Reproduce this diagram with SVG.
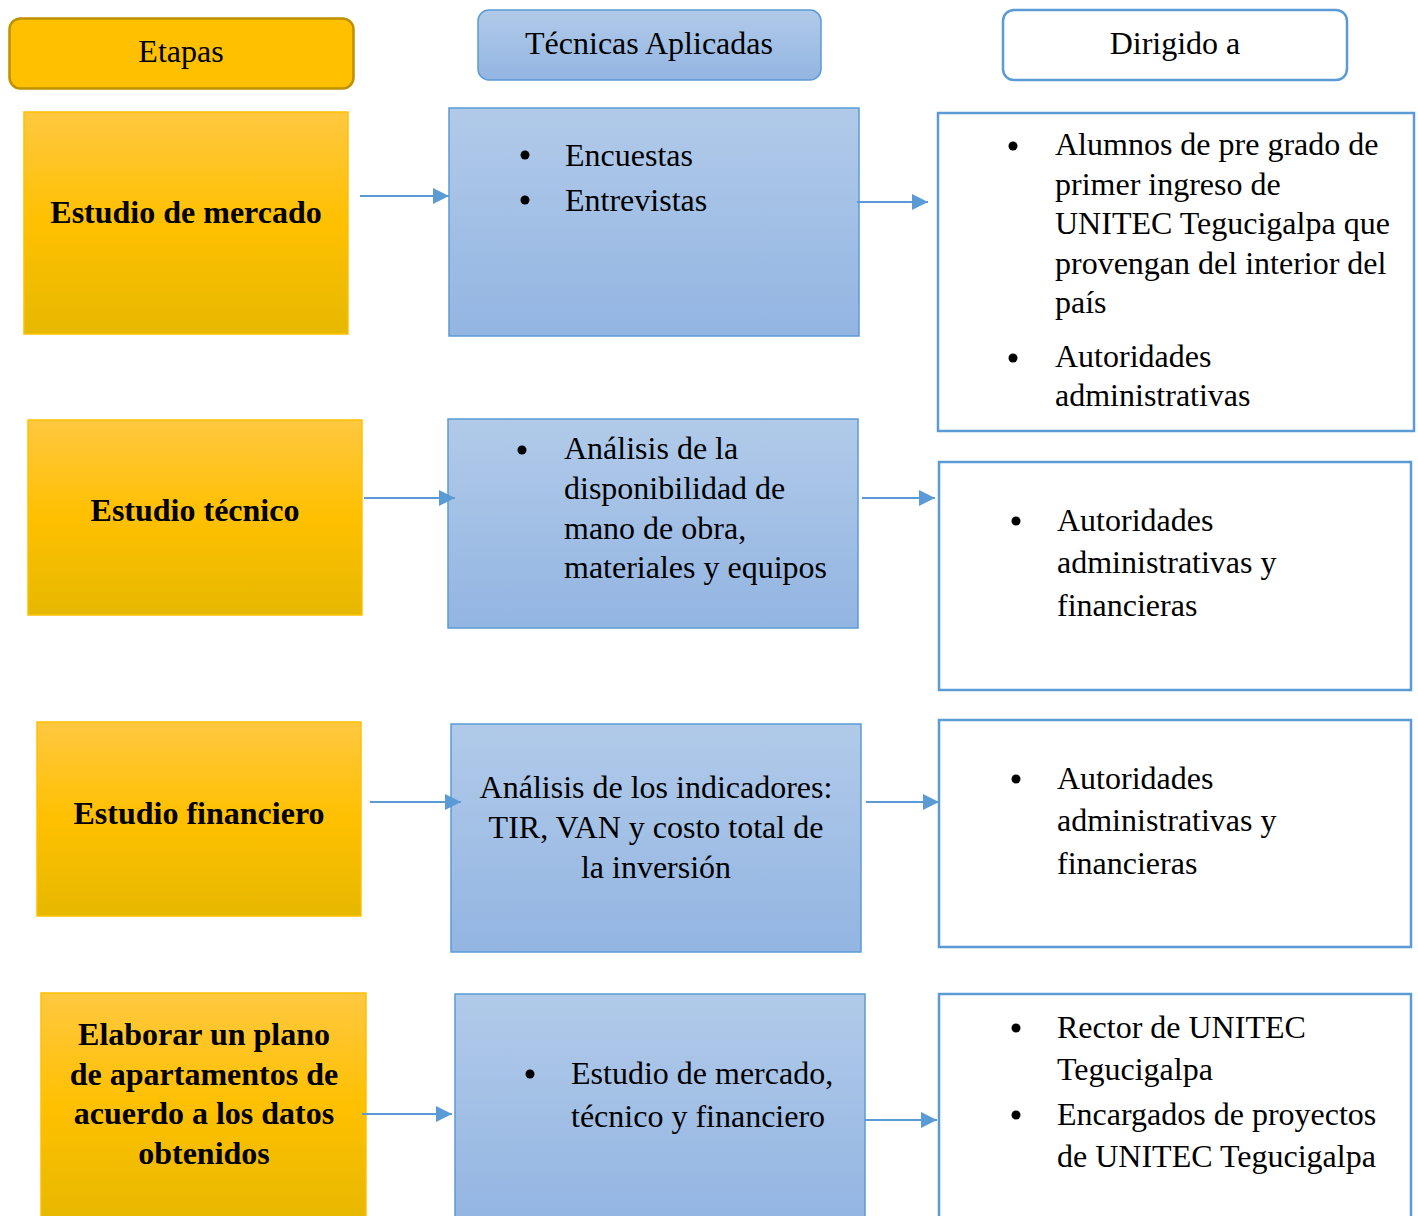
<svg xmlns="http://www.w3.org/2000/svg" width="1418" height="1216" viewBox="0 0 1418 1216">
<defs>
<linearGradient id="gold" x1="0" y1="0" x2="0" y2="1">
<stop offset="0" stop-color="#FFC840"/>
<stop offset="0.5" stop-color="#FFC000"/>
<stop offset="1" stop-color="#E6B800"/>
</linearGradient>
<linearGradient id="blue" x1="0" y1="0" x2="0" y2="1">
<stop offset="0" stop-color="#B1CAE9"/>
<stop offset="1" stop-color="#93B5E2"/>
</linearGradient>
<marker id="ah" viewBox="0 0 10 10" refX="10" refY="5" markerWidth="8" markerHeight="8" markerUnits="strokeWidth" orient="auto">
<path d="M0,0 L10,5 L0,10 z" fill="#5B9BD5"/>
</marker>
<style>
.gold{fill:url(#gold);stroke:#FFC000;stroke-width:1.5}
.blue{fill:url(#blue);stroke:#5B9BD5;stroke-width:1.5}
.white{fill:#fff;stroke:#5B9BD5;stroke-width:2.5}
text{font-family:"Liberation Serif","Times New Roman",serif;font-size:32px;fill:#000}
.b{font-weight:bold}
.c{text-anchor:middle}
.conn line{stroke:#5B9BD5;stroke-width:2;marker-end:url(#ah)}
.dot{fill:#000}
</style>
</defs>
<rect width="1418" height="1216" fill="#fff"/>

<g id="hdr-etapas">
<rect x="9.5" y="18.5" width="344" height="70" rx="11" fill="#FFC000" stroke="#BF9000" stroke-width="2.5"/>
<text class="c" x="181" y="62">Etapas</text>
</g>
<g id="hdr-tecnicas">
<rect x="478" y="10" width="343" height="70" rx="11" fill="url(#blue)" stroke="#5B9BD5" stroke-width="1.5"/>
<text class="c" x="649" y="54">Técnicas Aplicadas</text>
</g>
<g id="hdr-dirigido">
<rect x="1003" y="10" width="344" height="70" rx="11" fill="#fff" stroke="#5B9BD5" stroke-width="2.5"/>
<text class="c" x="1175" y="54">Dirigido a</text>
</g>

<g id="etapa1">
<rect class="gold" x="24" y="112" width="324" height="222"/>
<text class="c b" x="186" y="223">Estudio de mercado</text>
</g>
<g id="etapa2">
<rect class="gold" x="28" y="420" width="334" height="195"/>
<text class="c b" x="195" y="521">Estudio técnico</text>
</g>
<g id="etapa3">
<rect class="gold" x="37" y="722" width="324" height="194"/>
<text class="c b" x="199" y="824">Estudio financiero</text>
</g>
<g id="etapa4">
<rect class="gold" x="41" y="993" width="325" height="230"/>
<text class="c b" x="204" y="1045">Elaborar un plano</text>
<text class="c b" x="204" y="1085">de apartamentos de</text>
<text class="c b" x="204" y="1124">acuerdo a los datos</text>
<text class="c b" x="204" y="1164">obtenidos</text>
</g>

<g id="tecnica1">
<rect class="blue" x="449" y="108" width="410" height="228"/>
<circle class="dot" cx="525" cy="155" r="4.5"/>
<circle class="dot" cx="525" cy="200" r="4.5"/>
<text x="565" y="166">Encuestas</text>
<text x="565" y="211">Entrevistas</text>
</g>
<g id="tecnica2">
<rect class="blue" x="448" y="419" width="410" height="209"/>
<circle class="dot" cx="522" cy="450" r="4.5"/>
<text x="564" y="459">Análisis de la</text>
<text x="564" y="499">disponibilidad de</text>
<text x="564" y="539">mano de obra,</text>
<text x="564" y="578">materiales y equipos</text>
</g>
<g id="tecnica3">
<rect class="blue" x="451" y="724" width="410" height="228"/>
<text class="c" x="656" y="798">Análisis de los indicadores:</text>
<text class="c" x="656" y="838">TIR, VAN y costo total de</text>
<text class="c" x="656" y="878">la inversión</text>
</g>
<g id="tecnica4">
<rect class="blue" x="455" y="994" width="410" height="230"/>
<circle class="dot" cx="530" cy="1074" r="4.5"/>
<text x="571" y="1084">Estudio de mercado,</text>
<text x="571" y="1127">técnico y financiero</text>
</g>

<g id="dirigido1">
<rect class="white" x="938" y="113" width="476" height="318"/>
<circle class="dot" cx="1013" cy="146" r="4.5"/>
<text x="1055" y="155">Alumnos de pre grado de</text>
<text x="1055" y="195">primer ingreso de</text>
<text x="1055" y="234">UNITEC Tegucigalpa que</text>
<text x="1055" y="274">provengan del interior del</text>
<text x="1055" y="313">país</text>
<circle class="dot" cx="1013" cy="358" r="4.5"/>
<text x="1055" y="367">Autoridades</text>
<text x="1055" y="406">administrativas</text>
</g>
<g id="dirigido2">
<rect class="white" x="939" y="462" width="472" height="228"/>
<circle class="dot" cx="1016" cy="521" r="4.5"/>
<text x="1057" y="531">Autoridades</text>
<text x="1057" y="573">administrativas y</text>
<text x="1057" y="616">financieras</text>
</g>
<g id="dirigido3">
<rect class="white" x="939" y="720" width="472" height="227"/>
<circle class="dot" cx="1016" cy="779" r="4.5"/>
<text x="1057" y="789">Autoridades</text>
<text x="1057" y="831">administrativas y</text>
<text x="1057" y="874">financieras</text>
</g>
<g id="dirigido4">
<rect class="white" x="939" y="994" width="472" height="240"/>
<circle class="dot" cx="1016" cy="1028" r="4.5"/>
<text x="1057" y="1038">Rector de UNITEC</text>
<text x="1057" y="1080">Tegucigalpa</text>
<circle class="dot" cx="1016" cy="1115" r="4.5"/>
<text x="1057" y="1125">Encargados de proyectos</text>
<text x="1057" y="1167">de UNITEC Tegucigalpa</text>
</g>

<g id="connectors" class="conn">
<line x1="360" y1="196" x2="449" y2="196"/>
<line x1="857" y1="202" x2="928" y2="202"/>
<line x1="364" y1="498" x2="455" y2="498"/>
<line x1="862" y1="498" x2="935" y2="498"/>
<line x1="370" y1="802" x2="461" y2="802"/>
<line x1="866" y1="802" x2="939" y2="802"/>
<line x1="362" y1="1114" x2="452" y2="1114"/>
<line x1="865" y1="1120" x2="937" y2="1120"/>
</g>
</svg>
